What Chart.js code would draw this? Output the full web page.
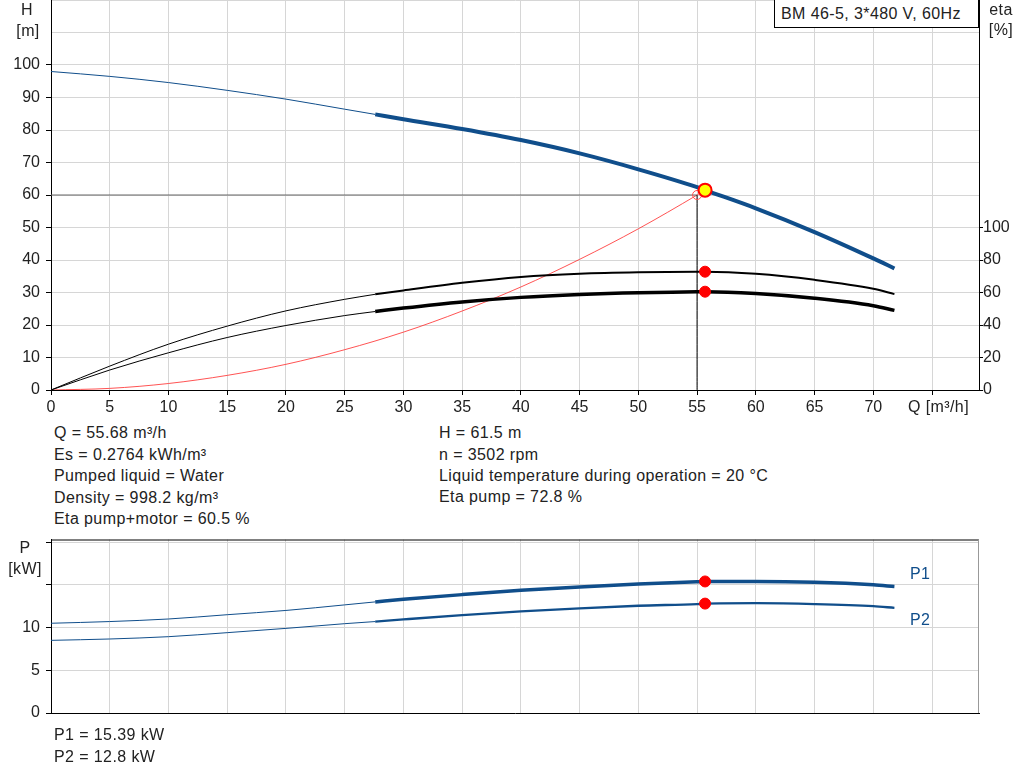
<!DOCTYPE html>
<html>
<head>
<meta charset="utf-8">
<script src="https://cdn.jsdelivr.net/npm/chart.js@4.4.1/dist/chart.umd.min.js"></script>
<style>
  body { margin: 0; background: #fff; width: 1024px; height: 781px; position: relative; overflow: hidden; font-family: "Liberation Sans", Arial, sans-serif; }
  canvas { position: absolute; left: 0; }
  .t { position: absolute; font-size: 16px; letter-spacing: 0.4px; line-height: 20px; height: 20px; color: #222; white-space: nowrap; }
  .c { text-align: center; }
  .blue { color: #104e8b; }
  #typeBox { position: absolute; left: 774px; top: -1px; height: 29px; width: 205px; border: 1px solid #000; background: #fff; font-size: 16px; letter-spacing: 0.4px; line-height: 28px; padding-left: 6px; box-sizing: border-box; color: #222; white-space: nowrap; }
</style>
</head>
<body>
<canvas id="hChart" width="1024" height="420" style="top:0"></canvas>
<canvas id="pChart" width="1024" height="200" style="top:530px"></canvas>

<div id="typeBox">BM 46-5, 3*480 V, 60Hz</div>
<div class="t c" style="left:7px;top:0px;width:40px">H</div>
<div class="t c" style="left:8px;top:21px;width:40px">[m]</div>
<div class="t c" style="left:981px;top:0px;width:40px">eta</div>
<div class="t c" style="left:981px;top:20px;width:40px">[%]</div>
<div class="t" style="left:908px;top:397px">Q [m³/h]</div>

<div class="t" style="left:54px;top:423px">Q = 55.68 m³/h</div>
<div class="t" style="left:54px;top:445px">Es = 0.2764 kWh/m³</div>
<div class="t" style="left:54px;top:466px">Pumped liquid = Water</div>
<div class="t" style="left:54px;top:488px">Density = 998.2 kg/m³</div>
<div class="t" style="left:54px;top:509px">Eta pump+motor = 60.5 %</div>
<div class="t" style="left:439px;top:423px">H = 61.5 m</div>
<div class="t" style="left:439px;top:445px">n = 3502 rpm</div>
<div class="t" style="left:439px;top:466px">Liquid temperature during operation = 20 °C</div>
<div class="t" style="left:439px;top:487px">Eta pump = 72.8 %</div>

<div class="t c" style="left:5px;top:538px;width:40px">P</div>
<div class="t c" style="left:5px;top:559px;width:40px">[kW]</div>
<div class="t blue" style="left:910px;top:564px">P1</div>
<div class="t blue" style="left:910px;top:610px">P2</div>

<div class="t" style="left:54px;top:725px">P1 = 15.39 kW</div>
<div class="t" style="left:54px;top:747px">P2 = 12.8 kW</div>

<script>
// flow points where the curves were read [m3/h]
const qPts = [0, 5, 10, 15, 20, 25, 27.6, 30, 35, 40, 45, 50, 55, 55.68, 60, 65, 70, 71.8];
const headM = [98, 96.5, 94.6, 92.2, 89.5, 86.4, 84.8, 83.3, 80.3, 76.9, 72.8, 67.9, 62.4, 61.5, 55.9, 48.6, 40.5, 37.4];
const etaPump = [0, 14.7, 28.2, 39.3, 48.7, 55.8, 58.9, 61.3, 66.0, 69.6, 71.6, 72.5, 72.8, 72.8, 71.5, 67.8, 62.3, 59.0];
const etaTotal = [0, 12.3, 22.9, 32.3, 39.7, 45.8, 48.3, 50.4, 54.2, 57.0, 58.8, 59.9, 60.4, 60.5, 59.4, 56.5, 51.9, 49.0];
const p1 = [10.5, 10.7, 11.0, 11.5, 12.0, 12.65, 13.0, 13.3, 13.85, 14.35, 14.75, 15.1, 15.35, 15.39, 15.4, 15.3, 15.0, 14.8];
const p2 = [8.5, 8.66, 8.93, 9.4, 9.9, 10.45, 10.7, 10.95, 11.45, 11.9, 12.25, 12.55, 12.75, 12.8, 12.85, 12.75, 12.5, 12.3];

// system curve
const qSys = [0, 5, 10, 15, 20, 25, 30, 35, 40, 45, 50, 55, 55.68];
const hSys = [0, 0.5, 2.0, 4.5, 7.9, 12.4, 17.8, 24.3, 31.7, 40.2, 49.6, 60.0, 61.5];

// where the bold (recommended) range begins
const qBoldFrom = 27.6;

// duty point and requested point
const dutyQ = 55.68, dutyH = 61.5, dutyEtaPump = 72.8, dutyEtaTotal = 60.5, dutyP1 = 15.39, dutyP2 = 12.8;
const reqQ = 55, reqH = 60;

// axis ticks
const qTicksMax = 70, hLabelMax = 100, etaLabelMax = 100, pLabelMax = 10;

const blue = '#104e8b';
const gridCol = '#d6d6d6';
const tickFont = { family: 'Liberation Sans, Arial', size: 16 };

function seg(ys, lo, hi) {
    return qPts.map((q, i) => ({ x: q, y: ys[i] })).filter(p => p.x >= lo && p.x <= hi);
}
function line(data, color, w, axis) {
    return { data: data, borderColor: color, borderWidth: w, yAxisID: axis || 'y', pointRadius: 0, fill: false, cubicInterpolationMode: 'monotone' };
}
function dot(x, y, axis, fillC, borderC, r, bw) {
    return { data: [{ x: x, y: y }], yAxisID: axis, showLine: false, pointRadius: r, pointBackgroundColor: fillC, pointBorderColor: borderC, pointBorderWidth: bw };
}

// top chart, head + efficiency
new Chart(document.getElementById('hChart'), {
    type: 'line',
    data: {
        datasets: [
            dot(dutyQ, dutyH, 'y', '#ffff00', '#ff0000', 6.5, 2),
            dot(reqQ, reqH, 'y', 'rgba(0,0,0,0)', '#ff4d4d', 4.5, 1),
            dot(dutyQ, dutyEtaPump, 'y2', '#ff0000', '#ff0000', 5.5, 1),
            dot(dutyQ, dutyEtaTotal, 'y2', '#ff0000', '#ff0000', 5.5, 1),
            line([{ x: reqQ, y: reqH }, { x: reqQ, y: 0 }], '#000', 1),
            line([{ x: 0, y: reqH }, { x: reqQ, y: reqH }], '#666', 1),
            line(seg(headM, qBoldFrom, 100), blue, 4),
            line(seg(headM, 0, qBoldFrom), blue, 1),
            line(seg(etaPump, qBoldFrom, 100), '#000', 2, 'y2'),
            line(seg(etaPump, 0, qBoldFrom), '#000', 1, 'y2'),
            line(seg(etaTotal, qBoldFrom, 100), '#000', 3.5, 'y2'),
            line(seg(etaTotal, 0, qBoldFrom), '#000', 1, 'y2'),
            line(qSys.map((q, i) => ({ x: q, y: hSys[i] })), 'rgba(255,40,40,0.8)', 1)
        ]
    },
    options: {
        responsive: false,
        animation: false,
        layout: { padding: 0, autoPadding: false },
        plugins: { legend: { display: false }, tooltip: { enabled: false } },
        scales: {
            x: {
                type: 'linear', min: 0, max: 79,
                afterFit: s => { s.height = 30; s.paddingLeft = 0; s.paddingRight = 0; },
                ticks: { stepSize: 5, includeBounds: false, autoSkip: false, maxRotation: 0, padding: 3, font: tickFont, color: '#222',
                    callback: v => v <= qTicksMax ? v : '' },
                grid: { color: gridCol, tickLength: 5, tickColor: '#000' },
                border: { color: '#000' }
            },
            y: {
                min: 0, max: 120,
                afterFit: s => { s.width = 51; s.paddingTop = 0; s.paddingBottom = 0; },
                ticks: { stepSize: 10, includeBounds: false, padding: 6, font: tickFont, color: '#222',
                    callback: v => v <= hLabelMax ? v : '' },
                grid: { color: gridCol, tickLength: 5,
                    tickColor: c => (c.tick && c.tick.value <= hLabelMax) ? '#000' : 'rgba(0,0,0,0)' },
                border: { color: '#000' }
            },
            y2: {
                position: 'right', min: 0, max: 240,
                afterFit: s => { s.width = 45; s.paddingTop = 0; s.paddingBottom = 0; },
                ticks: { stepSize: 20, includeBounds: false, padding: 0, font: tickFont, color: '#222',
                    callback: v => v <= etaLabelMax ? v : '' },
                grid: { drawOnChartArea: false, tickLength: 4,
                    tickColor: c => (c.tick && c.tick.value <= etaLabelMax) ? '#000' : 'rgba(0,0,0,0)' },
                border: { color: '#000' }
            }
        }
    }
});

// frame lines for the power chart
const frameLines = {
    id: 'frameLines',
    afterDraw(chart) {
        const a = chart.chartArea, g = chart.ctx;
        g.save();
        g.lineWidth = 1;
        g.strokeStyle = '#000';
        g.beginPath(); g.moveTo(a.left, a.top + 0.5); g.lineTo(a.right, a.top + 0.5); g.stroke();
        g.strokeStyle = '#999';
        g.beginPath(); g.moveTo(a.right - 0.5, a.top); g.lineTo(a.right - 0.5, a.bottom); g.stroke();
        g.restore();
    }
};

// bottom chart, power
new Chart(document.getElementById('pChart'), {
    type: 'line',
    data: {
        datasets: [
            dot(dutyQ, dutyP1, 'y', '#ff0000', '#ff0000', 5.5, 1),
            dot(dutyQ, dutyP2, 'y', '#ff0000', '#ff0000', 5.5, 1),
            line(seg(p1, qBoldFrom, 100), blue, 3.5),
            line(seg(p1, 0, qBoldFrom), blue, 1),
            line(seg(p2, qBoldFrom, 100), blue, 2.3),
            line(seg(p2, 0, qBoldFrom), blue, 1)
        ]
    },
    options: {
        responsive: false,
        animation: false,
        layout: { padding: { top: 9.5, right: 45 }, autoPadding: false },
        plugins: { legend: { display: false }, tooltip: { enabled: false } },
        scales: {
            x: {
                type: 'linear', min: 0, max: 79,
                afterFit: s => { s.height = 17; s.paddingLeft = 0; s.paddingRight = 0; },
                ticks: { stepSize: 5, includeBounds: false, display: false },
                grid: { color: gridCol, drawTicks: false },
                border: { color: '#000' }
            },
            y: {
                min: 0, max: 20.3,
                afterFit: s => { s.width = 51; s.paddingTop = 0; s.paddingBottom = 0; },
                ticks: { stepSize: 5, includeBounds: false, padding: 6, font: tickFont, color: '#222',
                    callback: v => v <= pLabelMax ? v : '' },
                grid: { color: gridCol, tickLength: 5, tickColor: '#000' },
                border: { color: '#000' }
            }
        }
    },
    plugins: [frameLines]
});
</script>
</body>
</html>
